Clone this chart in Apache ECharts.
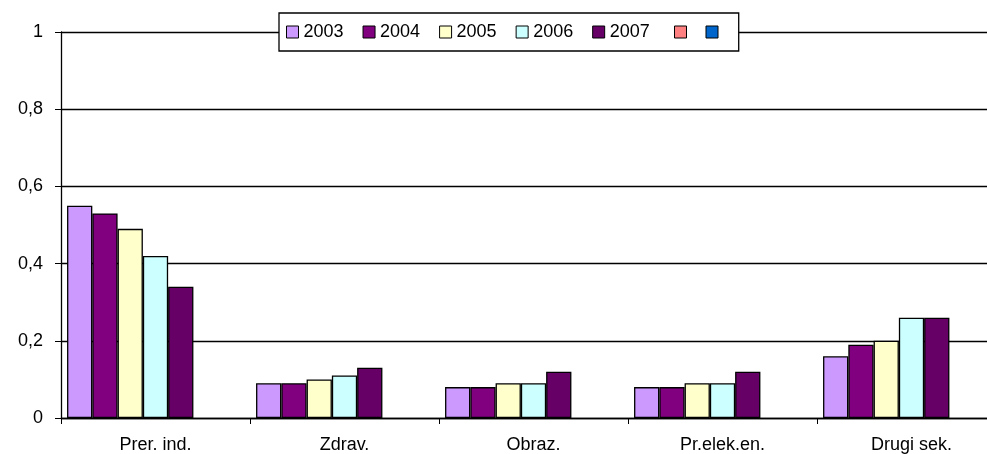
<!DOCTYPE html>
<html>
<head>
<meta charset="utf-8">
<script src="https://cdn.jsdelivr.net/npm/echarts@6/dist/echarts.min.js"></script>
<style>
  html, body { margin: 0; padding: 0; background: #fff; overflow: hidden; }
  /* plot area runs past the right edge of the picture, so the canvas is wider than the window */
  #chart { width: 1006px; height: 454px; }
</style>
</head>
<body>
<div id="chart"></div>
<script>
// kategorije i vrijednosti
var categories = ['Prer. ind.', 'Zdrav.', 'Obraz.', 'Pr.elek.en.', 'Drugi sek.']
var years = ['2003', '2004', '2005', '2006', '2007']
var v2003 = [0.55, 0.09, 0.08, 0.08, 0.16]
var v2004 = [0.53, 0.09, 0.08, 0.08, 0.19]
var v2005 = [0.49, 0.10, 0.09, 0.09, 0.20]
var v2006 = [0.42, 0.11, 0.09, 0.09, 0.26]
var v2007 = [0.34, 0.13, 0.12, 0.12, 0.26]
// dvije prazne serije (samo u legendi)
var emptyNames = [' ', '  ']
var emptyValues = [null, null, null, null, null]
var yTicks = [0, 0.2, 0.4, 0.6, 0.8, 1]

var colors = ['#CC99FF', '#800080', '#FFFFCC', '#CCFFFF', '#660066', '#FF8080', '#0066CC']
var font = 'Liberation Sans, Arial, sans-serif'

var allValues = [v2003, v2004, v2005, v2006, v2007, emptyValues, emptyValues]
var allNames = years.concat(emptyNames)

var series = allNames.map(function (name, i) {
  return {
    name: name,
    type: 'bar',
    data: allValues[i],
    barGap: '0%',
    barCategoryGap: '6.4%',
    itemStyle: { color: colors[i], borderColor: '#000', borderWidth: 1.3 },
    emphasis: { disabled: true }
  }
})

var chart = echarts.init(document.getElementById('chart'))
chart.setOption({
  animation: false,
  color: colors,
  grid: { left: 61, right: 0, top: 32, bottom: 35, containLabel: false },
  legend: [
    {
      data: years,
      left: 279,
      top: 13,
      padding: [10, 89, 10, 7],
      itemWidth: 12,
      itemHeight: 12,
      itemGap: 19,
      backgroundColor: '#fff',
      borderColor: '#000',
      borderWidth: 1.3,
      icon: 'rect',
      itemStyle: { borderColor: '#000', borderWidth: 1 },
      textStyle: { fontSize: 18, fontFamily: font, color: '#000' }
    },
    {
      data: emptyNames,
      left: 674,
      top: 13,
      padding: [10, 0, 10, 0],
      itemWidth: 12,
      itemHeight: 12,
      itemGap: 9,
      icon: 'rect',
      itemStyle: { borderColor: '#000', borderWidth: 1 },
      textStyle: { fontSize: 18, fontFamily: font, color: '#000' },
      z: 5
    }
  ],
  xAxis: {
    type: 'category',
    data: categories,
    axisLine: { lineStyle: { color: '#000', width: 1.3 } },
    axisTick: { show: true, length: 6, interval: 0, lineStyle: { color: '#000' } },
    axisLabel: { fontSize: 18, fontFamily: font, color: '#000', margin: 18, interval: 0 }
  },
  yAxis: {
    type: 'value',
    min: yTicks[0],
    max: yTicks[yTicks.length - 1],
    interval: 0.2,
    axisLine: { show: true, lineStyle: { color: '#000', width: 1.3 } },
    axisTick: { show: true, length: 6, lineStyle: { color: '#000' } },
    splitLine: { show: true, lineStyle: { color: '#000', width: 1.3 } },
    axisLabel: {
      fontSize: 18,
      fontFamily: font,
      color: '#000',
      margin: 18,
      formatter: function (v) { return String(Math.round(v * 10) / 10).replace('.', ',') }
    }
  },
  series: series
})
</script>
</body>
</html>
